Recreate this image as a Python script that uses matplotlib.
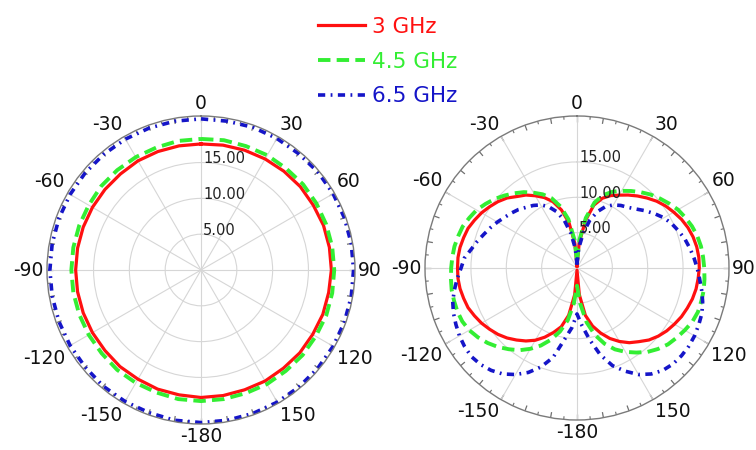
import numpy as np
import matplotlib
matplotlib.use("Agg")
import matplotlib.pyplot as plt
from matplotlib.transforms import offset_copy

plt.rcParams['font.family'] = ['DejaVu Sans']

# ---------------- data ----------------
angles_left = np.arange(0, 361, 10)   # 0 at top, clockwise (180..360 == -180..0)
angles_right = np.arange(0, 361, 5)

series_labels = ["3 GHz", "4.5 GHz", "6.5 GHz"]

# left pattern (omnidirectional), 10 deg steps
left_3ghz = [17.6, 17.7, 17.8, 17.9, 18.0, 18.1, 18.1, 18.2, 18.2, 18.2,
             18.1, 18.1, 18.0, 18.0, 17.9, 17.9, 17.8, 17.8, 17.8,
             17.7, 17.7, 17.6, 17.6, 17.5, 17.5, 17.5, 17.5, 17.5,
             17.5, 17.5, 17.5, 17.5, 17.5, 17.6, 17.6, 17.6, 17.6]
left_45ghz = [18.3, 18.4, 18.4, 18.5, 18.5, 18.6, 18.6, 18.6, 18.6, 18.6,
              18.6, 18.6, 18.5, 18.5, 18.4, 18.4, 18.3, 18.3, 18.3,
              18.3, 18.2, 18.2, 18.2, 18.1, 18.1, 18.1, 18.1, 18.1,
              18.1, 18.1, 18.1, 18.2, 18.2, 18.2, 18.2, 18.3, 18.3]
left_65ghz = [21.1, 21.1, 21.2, 21.2, 21.2, 21.3, 21.3, 21.3, 21.3, 21.3,
              21.3, 21.3, 21.3, 21.3, 21.3, 21.3, 21.3, 21.3, 21.3,
              21.3, 21.2, 21.2, 21.2, 21.1, 21.1, 21.1, 21.1, 21.1,
              21.1, 21.1, 21.1, 21.1, 21.1, 21.1, 21.1, 21.1, 21.1]

# right pattern (figure-eight), 5 deg steps
right_3ghz = [0.3, 3.5, 6.8, 9.2, 10.5, 11.3, 11.9, 12.6, 13.3, 14.0, 14.7, 15.3,
              15.8, 16.3, 16.7, 17.0, 17.2, 17.3, 17.3, 17.2, 17.1, 16.9, 16.6, 16.3,
              15.9, 15.5, 15.0, 14.4, 13.6, 12.9, 12.0, 11.0, 9.8, 8.5, 6.8, 3.8, 0.3,
              3.8, 6.8, 8.6, 9.7, 10.8, 11.8, 12.6, 13.3, 14.0, 14.6, 15.1, 15.6,
              16.0, 16.4, 16.6, 16.8, 16.9, 16.9, 16.9, 16.8, 16.6, 16.4, 16.0, 15.6,
              15.1, 14.6, 14.0, 13.2, 12.6, 11.8, 11.0, 10.0, 8.5, 6.5, 3.5, 0.3]
right_45ghz = [1.0, 4.0, 7.2, 9.6, 11.0, 11.9, 12.6, 13.3, 14.0, 14.7, 15.3, 15.9,
               16.5, 16.9, 17.3, 17.6, 17.8, 17.9, 18.0, 18.1, 18.2, 18.2, 18.2, 18.0,
               17.6, 17.2, 16.8, 16.2, 15.5, 14.6, 13.7, 12.7, 11.4, 9.8, 7.8, 5.0, 2.5,
               5.0, 7.5, 9.3, 10.8, 12.1, 13.2, 14.2, 15.0, 15.8, 16.5, 17.1, 17.6,
               17.9, 18.0, 18.0, 18.0, 17.9, 17.8, 17.7, 17.6, 17.4, 17.2, 16.8, 16.4,
               15.8, 15.2, 14.5, 13.8, 13.1, 12.3, 11.5, 10.5, 9.0, 7.0, 4.0, 1.0]
right_65ghz = [0.5, 2.8, 5.0, 7.0, 8.5, 9.6, 10.3, 10.8, 11.2, 11.8, 12.6, 13.4,
               14.2, 14.8, 15.3, 15.8, 16.2, 16.6, 17.0, 17.4, 17.9, 18.4, 18.8, 19.0,
               19.2, 19.3, 19.3, 19.2, 18.9, 18.3, 17.4, 16.1, 14.7, 12.7, 10.3, 8.2, 6.5,
               8.5, 10.3, 13.1, 14.9, 16.3, 17.4, 18.3, 18.9, 19.3, 19.5, 19.4, 19.2,
               18.9, 18.6, 18.2, 17.6, 17.0, 16.4, 16.0, 15.2, 14.6, 14.0, 13.5, 13.0,
               12.5, 12.1, 11.7, 11.2, 10.8, 10.3, 9.6, 8.5, 7.0, 5.0, 2.8, 0.5]

angle_ticks = [0, 30, 60, 90, 120, 150, 180, 210, 240, 270, 300, 330]
angle_labels = ["0", "30", "60", "90", "120", "150", "-180",
                "-150", "-120", "-90", "-60", "-30"]
radial_ticks = [5, 10, 15]
radial_labels = ["5.00", "10.00", "15.00"]
RMAX = 21.5

colors = ["#ff1010", "#33ee33", "#1515c8"]
styles = [dict(lw=2.3, ls="-"),
          dict(lw=2.8, ls=(0, (3.2, 1.6))),
          dict(lw=2.6, ls=(0, (2.0, 1.5, 0.5, 1.5)))]

# ---------------- figure ----------------
fig = plt.figure(figsize=(7.56, 4.5), dpi=100)
ax1 = fig.add_axes([47 / 756, 26 / 450, 308 / 756, 308 / 450], projection="polar")
ax2 = fig.add_axes([425 / 756, 30 / 450, 304 / 756, 304 / 450], projection="polar")


def style_polar(ax):
    ax.set_theta_zero_location("N")
    ax.set_theta_direction(-1)
    ax.set_ylim(0, RMAX)
    ax.set_xticks(np.deg2rad(angle_ticks))
    ax.set_xticklabels([])
    ax.set_yticks(radial_ticks)
    ax.set_yticklabels([])
    ax.grid(True, which="major", color="#d6d6d6", lw=0.8)
    ax.spines["polar"].set_color("#7a7a7a")
    ax.spines["polar"].set_linewidth(1.0)
    # inward tick marks on the outer circle (every 5 deg, longer every 10 deg)
    t5 = np.deg2rad(np.arange(5, 360, 10))
    t10 = np.deg2rad(np.arange(0, 360, 10))
    ax.vlines(t5, RMAX - 0.45, RMAX, color="#707070", lw=0.8, zorder=1.5)
    ax.vlines(t10, RMAX - 0.8, RMAX, color="#707070", lw=0.9, zorder=1.5)
    ax.set_ylim(0, RMAX)
    pad = 0.010
    for a, lab in zip(angle_ticks, angle_labels):
        t = np.deg2rad(a)
        s, c = np.sin(t), np.cos(t)
        ha = "center" if abs(s) < 0.01 else ("left" if s > 0 else "right")
        va = "center" if abs(c) < 0.01 else ("bottom" if c > 0 else "top")
        R = 0.5 + pad
        ax.text(0.5 + R * s, 0.5 + R * c, lab, transform=ax.transAxes,
                ha=ha, va=va, fontsize=13.5, color="#111111")
    tr = offset_copy(ax.transData, fig=fig, x=2, y=4, units="dots")
    for r, lab in zip(radial_ticks, radial_labels):
        ax.text(0, r, lab, transform=tr, ha="left", va="center",
                fontsize=10.5, color="#222222")


style_polar(ax1)
style_polar(ax2)

handles = []
for vals, col, st, lab in zip([left_3ghz, left_45ghz, left_65ghz], colors, styles, series_labels):
    h, = ax1.plot(np.deg2rad(angles_left), vals, color=col, label=lab, **st)
    handles.append(h)
for vals, col, st in zip([right_3ghz, right_45ghz, right_65ghz], colors, styles):
    ax2.plot(np.deg2rad(angles_right), vals, color=col, **st)

fig.legend(handles=handles, labels=series_labels, loc="upper left",
           bbox_to_anchor=(318 / 756, 1 - 17 / 450), frameon=False,
           fontsize=15.5, handlelength=2.2, handletextpad=0.33,
           labelspacing=0.68, borderpad=0, borderaxespad=0,
           labelcolor="linecolor")

fig.savefig("out.png", dpi=100)
